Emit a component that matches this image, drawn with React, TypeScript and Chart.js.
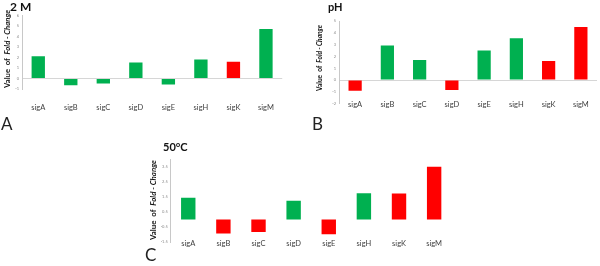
import React, { useEffect, useRef } from "react";
import { Chart, registerables } from "chart.js";

Chart.register(...registerables);

const categories = ["sigA", "sigB", "sigC", "sigD", "sigE", "sigH", "sigK", "sigM"];

const valuesA = [2.13, -0.64, -0.48, 1.53, -0.58, 1.82, 1.6, 4.73];
const colorsA = ["g", "g", "g", "g", "g", "g", "r", "g"];

const valuesB = [-0.9, 2.93, 1.7, -0.85, 2.5, 3.55, 1.62, 4.5];
const colorsB = ["r", "g", "g", "r", "g", "g", "r", "r"];

const valuesC = [1.45, -0.93, -0.83, 1.25, -0.98, 1.75, 1.72, 3.5];
const colorsC = ["g", "r", "r", "g", "r", "g", "r", "r"];

const titles = ["2 M", "pH", "50\u00B0C"];
const panelLetters = ["A", "B", "C"];
const yTitleParts = [
  { text: "Value  of  ", italic: false },
  { text: "Fold - Change", italic: true },
];

const GREEN = "#00B050";
const RED = "#FF0000";
const FONT = "Lato, 'Open Sans', sans-serif";
const LIFT = 12;

type PanelLayout = {
  canvas: { left: number; top: number; w: number; h: number };
  area: { left: number; top: number; right: number; bottom: number };
  y: { min: number; max: number; step: number };
  xPad: number;
  yTitle: { x: number; cy: number; span: number };
  title: { x: number; y: number; size: number };
};

const layouts: PanelLayout[] = [
  {
    canvas: { left: 0, top: 0, w: 300, h: 128 },
    area: { left: 22, top: 15.7, right: 298, bottom: 89 },
    y: { min: -1, max: 6, step: 1 },
    xPad: 14,
    yTitle: { x: 7.5, cy: 49, span: 78 },
    title: { x: 10, y: 11, size: 12 },
  },
  {
    canvas: { left: 300, top: 0, w: 300, h: 128 },
    area: { left: 339, top: 21, right: 597, bottom: 103.7 },
    y: { min: -2, max: 5, step: 1 },
    xPad: -3.5,
    yTitle: { x: 320, cy: 58, span: 66 },
    title: { x: 328, y: 11, size: 11 },
  },
  {
    canvas: { left: 130, top: 130, w: 330, h: 130 },
    area: { left: 170.7, top: 159.3, right: 451.7, bottom: 242 },
    y: { min: -1.5, max: 4, step: 0.5 },
    xPad: -2.5,
    yTitle: { x: 153, cy: 200, span: 80 },
    title: { x: 163, y: 151, size: 11 },
  },
];

function Panel(props: { idx: number; values: number[]; colors: string[] }) {
  const ref = useRef<HTMLCanvasElement | null>(null);
  const L = layouts[props.idx];
  useEffect(() => {
    if (!ref.current) return;
    const c = L.canvas;
    const a = L.area;
    const textPlugin = {
      id: "panelText",
      afterLayout(chart: any) {
        const xs = chart.scales.x;
        xs.top = xs.top - LIFT;
      },
      afterDraw(chart: any) {
        const ctx = chart.ctx as CanvasRenderingContext2D;
        ctx.save();
        ctx.fillStyle = "#111";
        ctx.font = `bold ${L.title.size}px ${FONT}`;
        ctx.textBaseline = "alphabetic";
        ctx.textAlign = "left";
        ctx.fillText(titles[props.idx], L.title.x - c.left, L.title.y - c.top);
        ctx.translate(L.yTitle.x - c.left, L.yTitle.cy - c.top);
        ctx.rotate(-Math.PI / 2);
        let w10 = 0;
        yTitleParts.forEach((p) => {
          ctx.font = `${p.italic ? "italic " : ""}bold 10px ${FONT}`;
          w10 += ctx.measureText(p.text).width;
        });
        const size = (10 * L.yTitle.span) / w10;
        let xpos = -L.yTitle.span / 2;
        ctx.textBaseline = "middle";
        yTitleParts.forEach((p) => {
          ctx.font = `${p.italic ? "italic " : ""}bold ${size}px ${FONT}`;
          ctx.fillText(p.text, xpos, 0);
          xpos += ctx.measureText(p.text).width;
        });
        ctx.restore();
      },
    };
    const chart = new Chart(ref.current, {
      type: "bar",
      data: {
        labels: categories,
        datasets: [
          {
            data: props.values,
            backgroundColor: props.colors.map((k) => (k === "r" ? RED : GREEN)),
            borderWidth: 0,
            barPercentage: 0.41,
            categoryPercentage: 1,
          },
        ],
      },
      options: {
        responsive: false,
        animation: false,
        events: [],
        layout: {
          padding: {
            top: a.top - c.top,
            right: c.left + c.w - a.right,
            left: 0,
            bottom: 0,
          },
        },
        plugins: { legend: { display: false }, tooltip: { enabled: false }, title: { display: false } },
        scales: {
          x: {
            grid: { display: false, drawTicks: false },
            border: { display: false },
            ticks: {
              padding: L.xPad + LIFT,
              autoSkip: false,
              maxRotation: 0,
              color: "#404040",
              font: { family: FONT, size: 7.5 },
            },
            afterFit: (s: any) => {
              s.height = c.h - (a.bottom - c.top);
            },
          },
          y: {
            min: L.y.min,
            max: L.y.max,
            ticks: {
              stepSize: L.y.step,
              padding: 3,
              color: "#8a8a8a",
              font: { family: FONT, size: 4 },
            },
            grid: {
              drawTicks: false,
              color: (ctx: any) => (ctx.tick && ctx.tick.value === 0 ? "#d6d6d6" : "rgba(0,0,0,0)"),
              lineWidth: 1,
            },
            border: { display: true, color: "#c8c8c8" },
            afterFit: (s: any) => {
              s.width = a.left - c.left;
            },
          },
        },
      },
      plugins: [textPlugin],
    });
    return () => chart.destroy();
  }, []);
  return (
    <canvas
      ref={ref}
      width={L.canvas.w}
      height={L.canvas.h}
      style={{
        position: "absolute",
        left: L.canvas.left,
        top: L.canvas.top,
        width: L.canvas.w,
        height: L.canvas.h,
        display: "block",
      }}
    />
  );
}

const letterPos = [
  { x: 1, y: 114 },
  { x: 312, y: 114 },
  { x: 145, y: 245 },
];

export default function App() {
  return (
    <div
      style={{
        position: "absolute",
        left: 0,
        top: 0,
        width: 600,
        height: 266,
        background: "#fff",
        overflow: "hidden",
      }}
    >
      <Panel idx={0} values={valuesA} colors={colorsA} />
      <Panel idx={1} values={valuesB} colors={colorsB} />
      <Panel idx={2} values={valuesC} colors={colorsC} />
      {panelLetters.map((t, i) => (
        <div
          key={t}
          style={{
            position: "absolute",
            left: letterPos[i].x,
            top: letterPos[i].y,
            fontFamily: FONT,
            fontSize: 17,
            lineHeight: "20px",
            color: "#222",
          }}
        >
          {t}
        </div>
      ))}
    </div>
  );
}
